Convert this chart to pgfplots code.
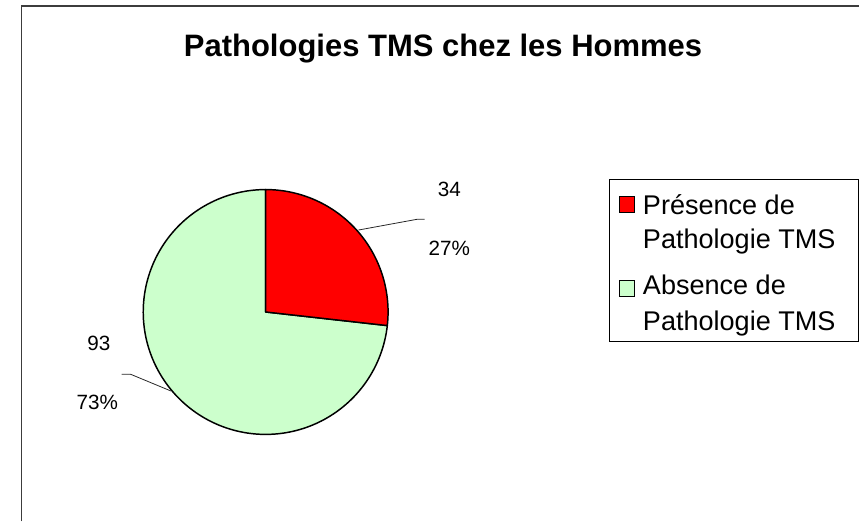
\documentclass[border=0pt]{standalone}
\usepackage{fontspec}
\setmainfont{Liberation Sans}
\usepackage{pgfplots}
\pgfplotsset{compat=1.18}
\usepackage{pgfplotstable}
\definecolor{pieRed}{RGB}{255,0,0}
\definecolor{pieGreen}{RGB}{204,255,204}
\definecolor{frameGray}{RGB}{60,60,60}

\pgfplotstableread{
label value
Presence 34
Absence 93
}\piedata

\begin{document}
\pgfplotstablegetelem{0}{value}\of\piedata\let\va\pgfplotsretval
\pgfplotstablegetelem{1}{value}\of\piedata\let\vb\pgfplotsretval
\pgfmathsetmacro\total{\va+\vb}
\pgfmathsetmacro\angA{90-360*\va/\total}
\pgfmathtruncatemacro\pctA{round(100*\va/\total)}
\pgfmathtruncatemacro\pctB{round(100*\vb/\total)}
\begin{tikzpicture}
\begin{axis}[
  width=859bp, height=528bp, scale only axis,
  xmin=0, xmax=859, ymin=0, ymax=528, y dir=reverse,
  enlargelimits=false,
  hide axis, clip=false,
]
% pie slices (centre 258,316 ; radius 124 px)
\addplot[fill=pieGreen, draw=black, line width=1.5bp, line join=round,
  domain=-270:\angA, samples=150, variable=\t]
  ({258+124*cos(\t)}, {316-124*sin(\t)}) -- (axis cs:258,316) -- cycle;
\addplot[fill=pieRed, draw=black, line width=1.5bp, line join=round,
  domain=\angA:90, samples=60, variable=\t]
  ({258+124*cos(\t)}, {316-124*sin(\t)}) -- (axis cs:258,316) -- cycle;

% leader lines
\draw[black!85, line width=0.8bp] (axis cs:352,233) -- (axis cs:412,222) -- (axis cs:419,222);
\draw[black!85, line width=0.8bp] (axis cs:162,396) -- (axis cs:121,379) -- (axis cs:112,379);

% data labels
\node[anchor=base, inner sep=0pt, font=\fontsize{21}{25}\selectfont] at (axis cs:444,199) {\va};
\node[anchor=base, inner sep=0pt, font=\fontsize{21}{25}\selectfont] at (axis cs:444,259) {\pctA\%};
\node[anchor=base, inner sep=0pt, font=\fontsize{21}{25}\selectfont] at (axis cs:89,355) {\vb};
\node[anchor=base, inner sep=0pt, font=\fontsize{21}{25}\selectfont] at (axis cs:87.5,415) {\pctB\%};

% title
\node[anchor=base west, inner sep=0pt, font=\bfseries\fontsize{31.5}{36}\selectfont] at (axis cs:175,57) {Pathologies TMS chez les Hommes};

% outer frame (visible left and top edges)
\draw[frameGray, line width=1.2bp] (axis cs:11,528) -- (axis cs:11,6) -- (axis cs:859,6);

% legend
\draw[black, line width=0.9bp] (axis cs:606,182) rectangle (axis cs:858,346);
\draw[black, line width=1bp, fill=pieRed] (axis cs:616,199) rectangle (axis cs:632,215);
\draw[black, line width=1bp, fill=pieGreen] (axis cs:616,284) rectangle (axis cs:632,300);
\node[anchor=base west, inner sep=0pt, font=\fontsize{27.5}{32}\selectfont] at (axis cs:640,217) {Présence de};
\node[anchor=base west, inner sep=0pt, font=\fontsize{27.5}{32}\selectfont] at (axis cs:640,252) {Pathologie TMS};
\node[anchor=base west, inner sep=0pt, font=\fontsize{27.5}{32}\selectfont] at (axis cs:640,298) {Absence de};
\node[anchor=base west, inner sep=0pt, font=\fontsize{27.5}{32}\selectfont] at (axis cs:640,335) {Pathologie TMS};
\end{axis}
\pgfresetboundingbox
\path (current axis.south west) rectangle (current axis.north east);
\end{tikzpicture}
\end{document}
